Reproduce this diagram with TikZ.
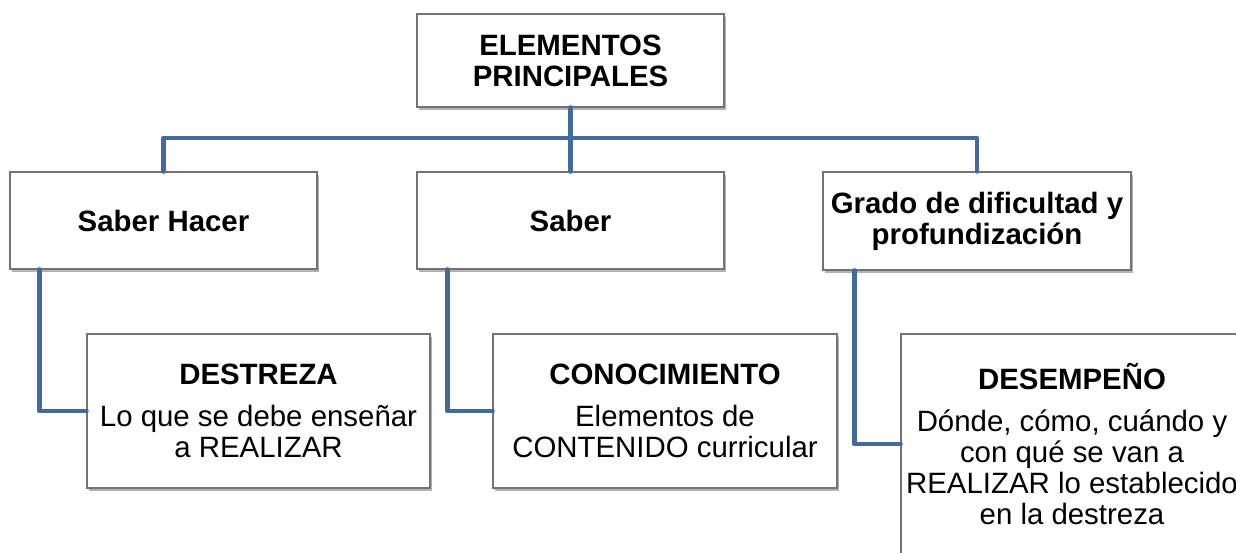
\documentclass[tikz,border=0pt]{standalone}
\usepackage{fontspec}
\setmainfont{Liberation Sans}
\usetikzlibrary{shadows}
\definecolor{connblue}{RGB}{66,106,156}
\definecolor{boxline}{RGB}{115,115,115}
\tikzset{
  box/.style={draw=boxline, line width=0.6pt, fill=white, rectangle, inner sep=0pt, align=center,
    font=\fontsize{14.7}{15.4}\selectfont,
    drop shadow={shadow xshift=1.2pt, shadow yshift=-1.5pt, fill=black, opacity=0.3}},
  headbox/.style={box, font=\fontsize{14.7}{15.4}\selectfont\bfseries},
  conn/.style={draw=connblue, line width=2.4pt, line join=round, line cap=round}
}
\begin{document}
\begin{tikzpicture}[x=0.5pt,y=-0.5pt]
\clip (0,0) rectangle (1236,552);
\fill[white] (0,0) rectangle (1236,552);
\coordinate (bar) at (570.5,138);
\node[headbox, minimum width=153.5pt, minimum height=46.5pt] (top) at (570.5,60.5) {ELEMENTOS\\PRINCIPALES};
\node[headbox, minimum width=153.5pt, minimum height=48.5pt] (sh) at (163.5,220.5) {Saber Hacer};
\node[headbox, minimum width=153.5pt, minimum height=48.5pt] (sab) at (570.5,220.5) {Saber};
\node[headbox, minimum width=154pt, minimum height=49pt] (gra) at (977,221) {Grado de dificultad y\\profundización};
\node[box, minimum width=171.5pt, minimum height=77pt] (des) at (258.5,411)
  {{\bfseries DESTREZA}\\[5.5pt]Lo que se debe enseñar\\a REALIZAR};
\node[box, minimum width=172pt, minimum height=77pt] (con) at (665,411)
  {{\bfseries CONOCIMIENTO}\\[5.5pt]Elementos de\\CONTENIDO curricular};
\node[box, minimum width=171pt, minimum height=110pt] (dem) at (1072,444)
  {{\bfseries DESEMPEÑO}\\[5.5pt]Dónde, cómo, cuándo y\\con qué se van a\\REALIZAR lo establecido\\en la destreza};
\draw[conn] (top.south) -- (bar);
\draw[conn] (sh.north) |- (bar) -| (gra.north);
\draw[conn] (bar) -- (sab.north);
\draw[conn] ([xshift=15pt]sh.south west) |- (des.west);
\draw[conn] ([xshift=15.5pt]sab.south west) |- (con.west);
\draw[conn] ([xshift=16pt]gra.south west) |- (dem.west);
\end{tikzpicture}
\end{document}
